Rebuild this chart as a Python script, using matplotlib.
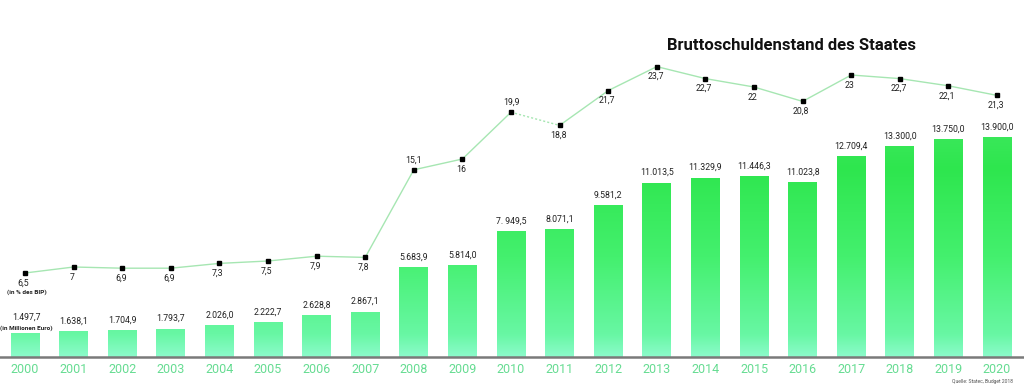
import matplotlib
matplotlib.use("Agg")
import matplotlib.pyplot as plt
import numpy as np
from matplotlib.colors import LinearSegmentedColormap

plt.rcParams['font.family'] = ['Roboto', 'DejaVu Sans']

years = [str(y) for y in range(2000, 2021)]
debt = [1497.7, 1638.1, 1704.9, 1793.7, 2026.0, 2222.7, 2628.8, 2867.1, 5683.9, 5814.0,
        7949.5, 8071.1, 9581.2, 11013.5, 11329.9, 11446.3, 11023.8, 12709.4, 13300.0,
        13750.0, 13900.0]
debt_labels = ["1.497,7", "1.638,1", "1.704,9", "1.793,7", "2.026,0", "2.222,7", "2.628,8",
               "2.867,1", "5.683,9", "5.814,0", "7. 949,5", "8.071,1", "9.581,2", "11.013,5",
               "11.329,9", "11.446,3", "11.023,8", "12.709,4", "13.300,0", "13.750,0",
               "13.900,0"]
pct = [6.5, 7, 6.9, 6.9, 7.3, 7.5, 7.9, 7.8, 15.1, 16, 19.9, 18.8, 21.7, 23.7, 22.7, 22,
       20.8, 23, 22.7, 22.1, 21.3]
pct_labels = ["6,5", "7", "6,9", "6,9", "7,3", "7,5", "7,9", "7,8", "15,1", "16", "19,9",
              "18,8", "21,7", "23,7", "22,7", "22", "20,8", "23", "22,7", "22,1", "21,3"]
pct_above = [False]*8 + [True, False, True] + [False]*10

W, H = 1024, 389
fig = plt.figure(figsize=(W/100, H/100), dpi=100)
ax_bottom = (H - 357) / H
ax_top = (H - 20) / H
ax = fig.add_axes([0, ax_bottom, 1, ax_top - ax_bottom])
ax.set_facecolor('white')

x = np.arange(len(years))
spacing = 48.6
left = -25 / spacing
right = (W - 25) / spacing
hpx = 357 - 20
ymax_bar = hpx / 15.83 * 1000

cmap = LinearSegmentedColormap.from_list('g', [
    (0.0, '#8cfbcb'), (0.10, '#68f7a4'), (0.45, '#44f06e'), (0.85, '#2ee64e'), (1.0, '#3ae85a')])

bars = ax.bar(x, debt, width=0.59, color='none', edgecolor='none', zorder=2)
grad = np.linspace(0, 1, 256).reshape(-1, 1)
for b in bars:
    im = ax.imshow(grad, cmap=cmap, origin='lower', aspect='auto',
                   extent=[left, right, 0, 14000], zorder=2, interpolation='bilinear')
    im.set_clip_path(b)
ax.set_xlim(left, right)
ax.set_ylim(0, ymax_bar)

lblc = '#222222'
fs = 6.3
for i, (v, lab) in enumerate(zip(debt, debt_labels)):
    if i == 0:
        ax.annotate("(in Millionen Euro)", (x[i], v), xytext=(1, 1.5), textcoords='offset points',
                    ha='center', va='bottom', fontsize=4.6, fontweight='bold', color=lblc)
        ax.annotate(lab, (x[i], v), xytext=(1, 8), textcoords='offset points',
                    ha='center', va='bottom', fontsize=fs, color=lblc)
    else:
        ax.annotate(lab, (x[i], v), xytext=(0, 4), textcoords='offset points',
                    ha='center', va='bottom', fontsize=fs, color=lblc)

for s in ['top', 'left', 'right']:
    ax.spines[s].set_visible(False)
ax.spines['bottom'].set_color('#7a7a7a')
ax.spines['bottom'].set_linewidth(1.8)
ax.set_yticks([])
ax.set_xticks(x)
ax.set_xticklabels(years, fontsize=9, color='#66dc92')
ax.tick_params(axis='x', length=0, pad=4.5)

ax2 = ax.twinx()
ax2.set_ylim(-0.5, -0.5 + hpx / 12)
ax2.set_xlim(left, right)
for s in ax2.spines.values():
    s.set_visible(False)
ax2.set_yticks([])
lc = '#a6e6b2'
ax2.plot(x[:11], pct[:11], color=lc, lw=1.0, zorder=3)
ax2.plot(x[10:12], pct[10:12], color=lc, lw=1.0, ls=(0, (1.5, 1.5)), zorder=3)
ax2.plot(x[11:], pct[11:], color=lc, lw=1.0, zorder=3)
ax2.plot(x, pct, ls='none', marker='s', ms=3.0, color='black', zorder=4)
for i, (v, lab) in enumerate(zip(pct, pct_labels)):
    if pct_above[i]:
        ax2.annotate(lab, (x[i], v), xytext=(0, 4), textcoords='offset points',
                     ha='center', va='bottom', fontsize=fs, color=lblc)
    else:
        ax2.annotate(lab, (x[i], v), xytext=(-1, -4), textcoords='offset points',
                     ha='center', va='top', fontsize=fs, color=lblc)
ax2.annotate("(in % des BIP)", (x[0], pct[0]), xytext=(1, -11.5), textcoords='offset points',
             ha='center', va='top', fontsize=4.6, fontweight='bold', color=lblc)

fig.text(916/W, 1 - 45/H, "Bruttoschuldenstand des Staates", ha='right', va='center',
         fontsize=12, fontweight='bold', color='#111111')
fig.text(1013/W, 1 - 382/H, "Quelle: Statec, Budget 2018", ha='right', va='center',
         fontsize=3.6, color='#555555')

fig.savefig('out.png', dpi=100, facecolor='white')
